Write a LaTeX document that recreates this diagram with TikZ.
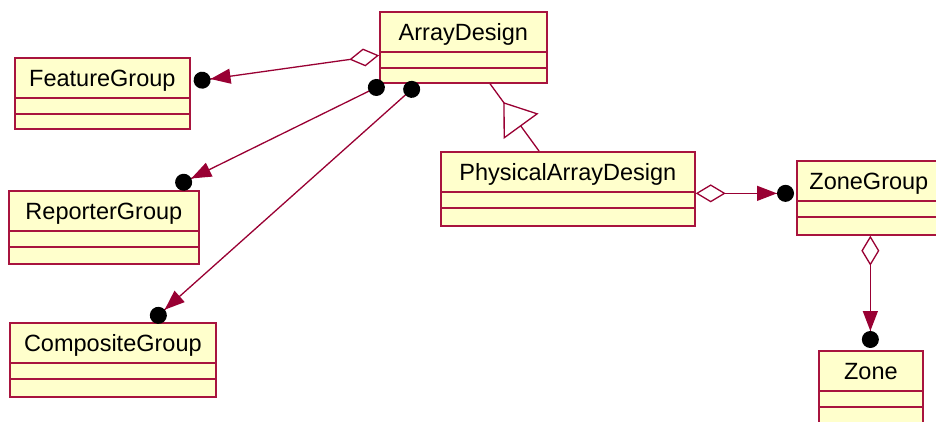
\documentclass[tikz,border=0pt]{standalone}
\usepackage{fontspec}
\setmainfont{Liberation Sans}
\usetikzlibrary{arrows.meta,calc,decorations.markings}

\definecolor{classborder}{RGB}{168,20,62}
\definecolor{classfill}{RGB}{255,255,204}
\definecolor{linkcolor}{RGB}{153,0,51}

\tikzset{
  umlclass/.style={
    draw=classborder, fill=classfill, line width=1.7pt,
    anchor=north west, inner sep=0pt,
    text height=29pt, text depth=44pt,
    font=\fontsize{23.5}{28}\selectfont,
    path picture={
      \draw[classborder, line width=1.7pt]
        ([yshift=-40pt]path picture bounding box.north west) --
        ([yshift=-40pt]path picture bounding box.north east)
        ([yshift=-56pt]path picture bounding box.north west) --
        ([yshift=-56pt]path picture bounding box.north east);
    }
  },
  conn/.style={draw=linkcolor, line width=1.3pt},
  aggtail/.style={{Diamond[open,fill=white,length=30pt,width=18pt]}-{Triangle[length=20pt,width=15pt]Circle[color=black,length=17pt]}},
  dottail/.style={{Circle[color=black,length=17pt]}-{Triangle[length=20pt,width=15pt]Circle[color=black,length=17pt]}},
  inherits/.style={
    postaction={decorate},
    decoration={markings, mark=at position 0.728 with
      {\arrow{Triangle[open,fill=white,length=30pt,width=43pt]}}}
  }
}

\begin{document}
\begin{tikzpicture}[x=1pt,y=-1pt]
  \useasboundingbox (0,0) rectangle (936,421);
  \clip (0,0) rectangle (936,421);

  % classes
  \node[umlclass, minimum width=167pt, text depth=42pt] (ad) at (379,11) {ArrayDesign};
  \node[umlclass, minimum width=175pt, text depth=42pt] (fg) at (14,57) {FeatureGroup};
  \node[umlclass, minimum width=190pt] (rg) at (8,190) {ReporterGroup};
  \node[umlclass, minimum width=206pt, text depth=45pt] (cg) at (9,322) {CompositeGroup};
  \node[umlclass, minimum width=254pt, text depth=45pt] (pad) at (440,151) {PhysicalArrayDesign};
  \node[umlclass, minimum width=144pt, text depth=45pt] (zg) at (796,160) {ZoneGroup};
  \node[umlclass, minimum width=104pt, text depth=48pt] (zone) at (818,350) {Zone};

  % connector end points on the class borders
  \coordinate (adW)   at ([yshift=-8pt]ad.west);
  \coordinate (fgE)   at ([xshift=3pt,yshift=12pt]fg.east);
  \coordinate (adS1)  at ([xshift=5pt]ad.south west);
  \coordinate (rgN)   at ([xshift=168pt,yshift=4pt]rg.north west);
  \coordinate (adS2)  at ([xshift=39pt]ad.south west);
  \coordinate (cgN)   at ([xshift=143pt,yshift=1pt]cg.north west);
  \coordinate (padN)  at ([xshift=99pt]pad.north west);
  \coordinate (adS3)  at ([xshift=111pt]ad.south west);
  \coordinate (padE)  at ([yshift=-4.5pt]pad.east);
  \coordinate (zgW)   at ($(zg.west |- padE)+(-2,0)$);
  \coordinate (zgS)   at ([xshift=1.5pt]zg.south);
  \coordinate (zoneN) at ($(zgS |- zone.north)+(0,-2)$);

  % associations
  \draw[conn, aggtail] (adW) -- (fgE);
  \draw[conn, dottail] (adS1) -- (rgN);
  \draw[conn, dottail] (adS2) -- (cgN);
  \draw[conn, aggtail] (padE) -- (zgW);
  \draw[conn, aggtail] (zgS) -- (zoneN);

  % generalization
  \draw[conn, inherits] (padN) -- (adS3);
\end{tikzpicture}
\end{document}
